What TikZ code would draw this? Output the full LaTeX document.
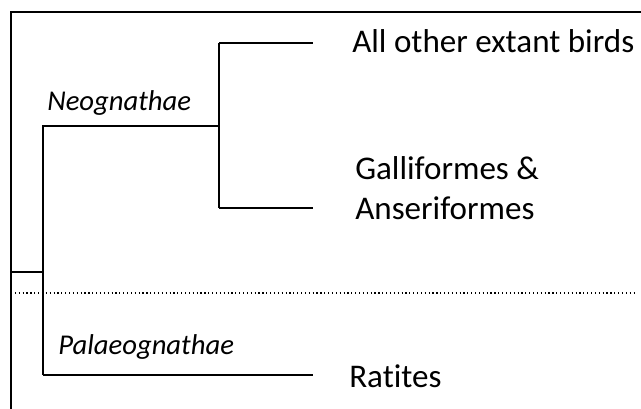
\documentclass[tikz,border=0pt]{standalone}
\usepackage{fontspec}
\setmainfont[Ligatures=NoCommon]{Carlito}
\begin{document}
\begin{tikzpicture}[x=0.75pt,y=-0.75pt,
  branch/.style={line width=1.3pt,black},
  leaf/.style={anchor=base west,inner sep=0pt,font=\fontsize{24.8}{30}\selectfont,align=left},
  clade/.style={anchor=base west,inner sep=0pt,font=\fontsize{21.5}{26}\selectfont\itshape}]
\useasboundingbox (0,0) rectangle (641,409);
% frame (top and left)
\coordinate (ftr) at (641,12);
\coordinate (ftl) at (11,12);
\coordinate (fbl) at (11,409);
\draw[branch] (ftr) -- (ftl) -- (fbl);
% tree coordinates
\coordinate (root) at (11,272);
\coordinate (rootv) at (43,272);
\coordinate (neo) at (43,126);
\coordinate (pal) at (43,375);
\coordinate (neoj) at (219,126);
\coordinate (top) at (219,43);
\coordinate (bot) at (219,208);
\coordinate (topend) at (313,43);
\coordinate (botend) at (313,208);
\coordinate (palend) at (313,375);
% labels
\node[leaf] (birds) at (352,53) {All other extant birds};
\node[leaf] (galli) at (355,220) {Galliformes \&\\Anseriformes};
\node[leaf] (ratites) at (349,387) {Ratites};
\node[clade] (neolab) at (47,111) {Neognathae};
\node[clade] (pallab) at (58,354) {Palaeognathae};
% branches
\draw[branch] (root) -- (rootv);
\draw[branch] (pal) -- (neo) -- (neoj);
\draw[branch] (top) -- (bot);
\draw[branch] (top) -- (topend);
\draw[branch] (bot) -- (botend);
\draw[branch] (pal) -- (palend);
% dotted separator
\coordinate (dl) at (11,293);
\coordinate (dr) at (635,293);
\draw[line width=0.9pt,dotted] (dl) -- (dr);
\end{tikzpicture}
\end{document}
